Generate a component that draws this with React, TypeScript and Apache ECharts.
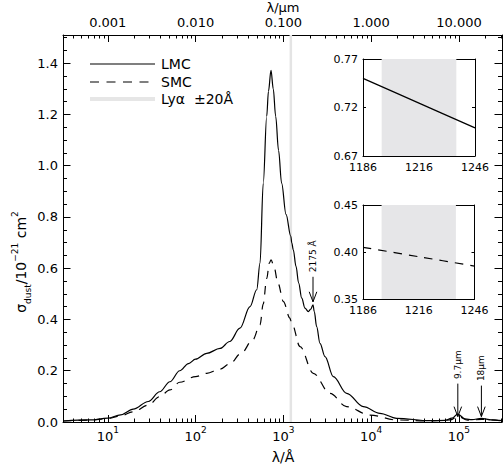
import React, { useEffect, useRef } from "react";
import * as echarts from "echarts";

// ---------- data (wavelength in Angstrom, cross-section in 1e-21 cm^2) ----------
const lmcWave = [3.1, 6.3, 10, 14, 19.5, 29, 39, 51, 66, 83, 100, 134, 190, 245, 320, 417, 497, 542, 590, 646, 676, 723, 767, 817, 881, 955, 1072, 1216, 1246, 1297, 1393, 1493, 1618, 1762, 1923, 2046, 2175, 2249, 2393, 2612, 2979, 3707, 5260, 8130, 12590, 19500, 46800, 69200, 83200, 97000, 117500, 141000, 180000, 234000, 309000];
const lmcSigma = [0.004, 0.008, 0.015, 0.028, 0.05, 0.08, 0.118, 0.157, 0.2, 0.228, 0.245, 0.268, 0.287, 0.314, 0.366, 0.45, 0.516, 0.62, 0.932, 1.193, 1.29, 1.372, 1.3, 1.193, 1.06, 0.932, 0.81, 0.7245, 0.699, 0.672, 0.607, 0.542, 0.483, 0.444, 0.431, 0.44, 0.457, 0.431, 0.372, 0.307, 0.255, 0.177, 0.112, 0.06, 0.034, 0.0145, 0.005, 0.006, 0.015, 0.031, 0.012, 0.009, 0.0145, 0.008, 0.005];

const smcWave = [3.1, 6.3, 10, 14, 19.5, 29, 39, 51, 66, 100, 134, 190, 245, 331, 447, 542, 589, 646, 692, 724, 776, 871, 1000, 1189, 1216, 1246, 1549, 2188, 3388, 5248, 9683, 19500, 46800, 79400, 97000, 126000, 182000, 309000];
const smcSigma = [0.004, 0.007, 0.013, 0.024, 0.04, 0.066, 0.099, 0.125, 0.155, 0.177, 0.19, 0.206, 0.227, 0.268, 0.32, 0.379, 0.46, 0.56, 0.62, 0.633, 0.61, 0.54, 0.47, 0.405, 0.395, 0.385, 0.294, 0.19, 0.112, 0.06, 0.027, 0.008, 0.004, 0.008, 0.022, 0.007, 0.01, 0.004];

const insetWave = [1186, 1216, 1246];
const insetLmc = [0.75, 0.7245, 0.699];
const insetSmc = [0.405, 0.395, 0.385];

const lyaCenter = 1216;
const lyaHalfWidth = 20;

const bottomMajorWave = [10, 100, 1000, 10000, 100000];
const yMajorTicks = [0, 0.2, 0.4, 0.6, 0.8, 1.0, 1.2, 1.4];
const insetTopTicks = [0.67, 0.72, 0.77];
const insetBottomTicks = [0.35, 0.4, 0.45];

const annWave = [2175, 97000, 180000];
const annText = ["2175 Å", "9.7μm", "18μm"];
const annSigma = [0.469, 0.021, 0.021];
const annLen = [25, 33, 31];

// ---------- layout / style ----------
const FONT = "DejaVu Sans";
const BLACK = "#000";
const XMIN = 0.49;
const XMAX = 5.49;
const YMAX = 1.51;

const lg = Math.log10;
const majorLog = bottomMajorWave.map(lg);
const minorLog: number[] = [];
for (let d = 0; d <= 5; d++) {
  for (let k = 2; k <= 9; k++) {
    const v = lg(k * Math.pow(10, d));
    if (v > XMIN && v < XMAX) minorLog.push(v);
  }
}
const yMinorTicks: number[] = [];
for (let i = 1; i <= 30; i++) {
  if (i % 4 !== 0) yMinorTicks.push(+(i * 0.05).toFixed(2));
}

const axLine = { show: true, onZero: false, lineStyle: { color: BLACK, width: 1 } };
const noLine = { show: false, onZero: false };
const tickStyle = { color: BLACK, width: 1 };

function axisDef(grid: number, pos: string, min: number, max: number, ticks: number[], len: number, showLine: boolean, label?: any) {
  return {
    gridIndex: grid, type: "value", position: pos, min, max,
    axisLine: showLine ? axLine : noLine,
    axisTick: { show: true, inside: true, length: len, customValues: ticks, lineStyle: tickStyle },
    axisLabel: label ? label : { show: false },
    splitLine: { show: false }, minorTick: { show: false }, axisPointer: { show: false },
  };
}

function buildOption(): any {
  const bottomLabel = {
    show: true, customValues: majorLog, margin: 3,
    formatter: (v: number) => `{b|10}{s|${Math.round(v)}}`,
    rich: {
      b: { fontSize: 13, lineHeight: 22, fontFamily: FONT, color: BLACK },
      s: { fontSize: 9, lineHeight: 11, verticalAlign: "top", fontFamily: FONT, color: BLACK },
    },
  };
  const topLabel = {
    show: true, customValues: majorLog, margin: 6, fontSize: 13, fontFamily: FONT, color: BLACK,
    formatter: (v: number) => Math.pow(10, v - 4).toFixed(3),
  };
  const leftLabel = {
    show: true, customValues: yMajorTicks, margin: 5, fontSize: 13, fontFamily: FONT, color: BLACK,
    formatter: (v: number) => v.toFixed(1),
  };
  const insetXLabel = {
    show: true, customValues: insetWave, margin: 6, fontSize: 11, fontFamily: FONT, color: BLACK,
    formatter: (v: number) => String(Math.round(v)),
  };
  const insetYLabel = (vals: number[]) => ({
    show: true, customValues: vals, margin: 5, fontSize: 11, fontFamily: FONT, color: BLACK,
    formatter: (v: number) => v.toFixed(2),
  });
  const iMin = insetWave[0];
  const iMax = insetWave[insetWave.length - 1];
  const t0 = insetTopTicks;
  const t1 = insetBottomTicks;

  return {
    animation: false,
    backgroundColor: "#fff",
    grid: [
      { left: 63, right: 1, top: 35, bottom: 46, containLabel: false, outerBoundsMode: "none" },
      { left: 363, top: 59, width: 112, height: 97, containLabel: false, outerBoundsMode: "none" },
      { left: 363, top: 205, width: 111.5, height: 94, containLabel: false, outerBoundsMode: "none" },
    ],
    xAxis: [
      axisDef(0, "bottom", XMIN, XMAX, majorLog, 7, true, bottomLabel),
      axisDef(0, "bottom", XMIN, XMAX, minorLog, 3.5, false),
      axisDef(0, "top", XMIN, XMAX, majorLog, 7, true, topLabel),
      axisDef(0, "top", XMIN, XMAX, minorLog, 3.5, false),
      axisDef(1, "bottom", iMin, iMax, insetWave, 3, true, insetXLabel),
      axisDef(1, "top", iMin, iMax, insetWave, 3, true),
      axisDef(2, "bottom", iMin, iMax, insetWave, 3, true, insetXLabel),
      axisDef(2, "top", iMin, iMax, insetWave, 3, true),
    ],
    yAxis: [
      axisDef(0, "left", 0, YMAX, yMajorTicks, 7.5, true, leftLabel),
      axisDef(0, "left", 0, YMAX, yMinorTicks, 4, false),
      axisDef(0, "right", 0, YMAX, yMajorTicks, 7.5, true),
      axisDef(0, "right", 0, YMAX, yMinorTicks, 4, false),
      axisDef(1, "left", t0[0], t0[2], t0, 3, true, insetYLabel(t0)),
      axisDef(1, "right", t0[0], t0[2], t0, 3, true),
      axisDef(2, "left", t1[0], t1[2], t1, 3, true, insetYLabel(t1)),
      axisDef(2, "right", t1[0], t1[2], t1, 3, true),
    ],
    series: [
      {
        type: "line", name: "Lya", xAxisIndex: 0, yAxisIndex: 0, silent: true, symbol: "none",
        data: [[lg(lyaCenter), 0], [lg(lyaCenter), YMAX]],
        lineStyle: { color: "#e4e4e4", width: 2.5 }, z: 1,
      },
      {
        type: "line", name: "LMC", xAxisIndex: 0, yAxisIndex: 0, silent: true, symbol: "none",
        smooth: 0.35, smoothMonotone: "x",
        data: lmcWave.map((w, i) => [lg(w), lmcSigma[i]]),
        lineStyle: { color: BLACK, width: 1.2 }, z: 3,
      },
      {
        type: "line", name: "SMC", xAxisIndex: 0, yAxisIndex: 0, silent: true, symbol: "none",
        smooth: 0.35, smoothMonotone: "x",
        data: smcWave.map((w, i) => [lg(w), smcSigma[i]]),
        lineStyle: { color: BLACK, width: 1.2, type: [8.5, 7] }, z: 3,
      },
      {
        type: "line", name: "LMC inset", xAxisIndex: 4, yAxisIndex: 4, silent: true, symbol: "none",
        smooth: 0.3,
        data: insetWave.map((w, i) => [w, insetLmc[i]]),
        lineStyle: { color: BLACK, width: 1.2 }, z: 3,
        markArea: {
          silent: true, itemStyle: { color: "#e6e6e8" },
          data: [[{ xAxis: lyaCenter - lyaHalfWidth }, { xAxis: lyaCenter + lyaHalfWidth }]],
        },
      },
      {
        type: "line", name: "SMC inset", xAxisIndex: 6, yAxisIndex: 6, silent: true, symbol: "none",
        smooth: 0.3,
        data: insetWave.map((w, i) => [w, insetSmc[i]]),
        lineStyle: { color: BLACK, width: 1.2, type: [8.5, 7] }, z: 3,
        markArea: {
          silent: true, itemStyle: { color: "#e6e6e8" },
          data: [[{ xAxis: lyaCenter - lyaHalfWidth }, { xAxis: lyaCenter + lyaHalfWidth }]],
        },
      },
    ],
  };
}

function buildGraphics(chart: any): any[] {
  const g: any[] = [];
  const txt = (x: number, y: number, text: string, size: number, align = "center") => ({
    type: "text", x, y, silent: true,
    style: { text, fill: BLACK, fontSize: size, fontFamily: FONT, textAlign: align, textVerticalAlign: "middle" },
  });
  // axis titles
  g.push(txt(283, 457, "λ/Å", 14));
  g.push(txt(283, 7, "λ/μm", 13));
  g.push({
    type: "text", x: 21, y: 262, rotation: Math.PI / 2, silent: true,
    style: {
      text: "{g|σ}{sub|dust}{g|/10}{sup|−21}{g| cm}{sup|2}",
      fill: BLACK, textAlign: "center", textVerticalAlign: "middle", fontFamily: FONT, fontSize: 14,
      rich: {
        g: { fontSize: 14, lineHeight: 22, fontFamily: FONT, fill: BLACK },
        sub: { fontSize: 9, lineHeight: 11, verticalAlign: "bottom", fontFamily: FONT, fill: BLACK },
        sup: { fontSize: 9, lineHeight: 11, verticalAlign: "top", fontFamily: FONT, fill: BLACK },
      },
    },
  });
  // legend
  const lx1 = 90, lx2 = 155, tx = 161;
  const ly = [64, 82, 99];
  g.push({ type: "line", silent: true, shape: { x1: lx1, y1: ly[0], x2: lx2, y2: ly[0] }, style: { stroke: BLACK, lineWidth: 1.2 } });
  g.push({ type: "line", silent: true, shape: { x1: lx1, y1: ly[1], x2: lx2, y2: ly[1] }, style: { stroke: BLACK, lineWidth: 1.2, lineDash: [9, 7.5] } });
  g.push({ type: "line", silent: true, shape: { x1: lx1, y1: ly[2], x2: lx2, y2: ly[2] }, style: { stroke: "#e6e6e6", lineWidth: 4 } });
  g.push(txt(tx, ly[0], "LMC", 14, "left"));
  g.push(txt(tx, ly[1], "SMC", 14, "left"));
  g.push(txt(tx, ly[2], "Lyα  ±20Å", 14, "left"));
  // annotations with arrows
  for (let i = 0; i < annWave.length; i++) {
    const p = chart.convertToPixel({ xAxisIndex: 0, yAxisIndex: 0 }, [lg(annWave[i]), annSigma[i]]);
    const x = p[0], tip = p[1], start = tip - annLen[i];
    g.push({ type: "line", silent: true, shape: { x1: x, y1: start, x2: x, y2: tip }, style: { stroke: BLACK, lineWidth: 1 } });
    g.push({ type: "polyline", silent: true, shape: { points: [[x - 3.8, tip - 10], [x, tip], [x + 3.8, tip - 10]] }, style: { stroke: BLACK, lineWidth: 1, fill: null } });
    g.push({
      type: "text", x, y: start - 4.5, rotation: Math.PI / 2, silent: true,
      style: { text: annText[i], fill: BLACK, fontSize: 9, fontFamily: FONT, textAlign: "left", textVerticalAlign: "middle" },
    });
  }
  return g;
}

export default function App() {
  const ref = useRef<HTMLDivElement>(null);
  useEffect(() => {
    if (!ref.current) return;
    const chart = echarts.init(ref.current, null, { renderer: "svg" });
    chart.setOption(buildOption());
    chart.setOption({ graphic: buildGraphics(chart) });
    return () => chart.dispose();
  }, []);
  return (
    <div
      ref={ref}
      style={{ position: "fixed", left: 0, top: 0, width: 503, height: 468, background: "#fff" }}
    />
  );
}
